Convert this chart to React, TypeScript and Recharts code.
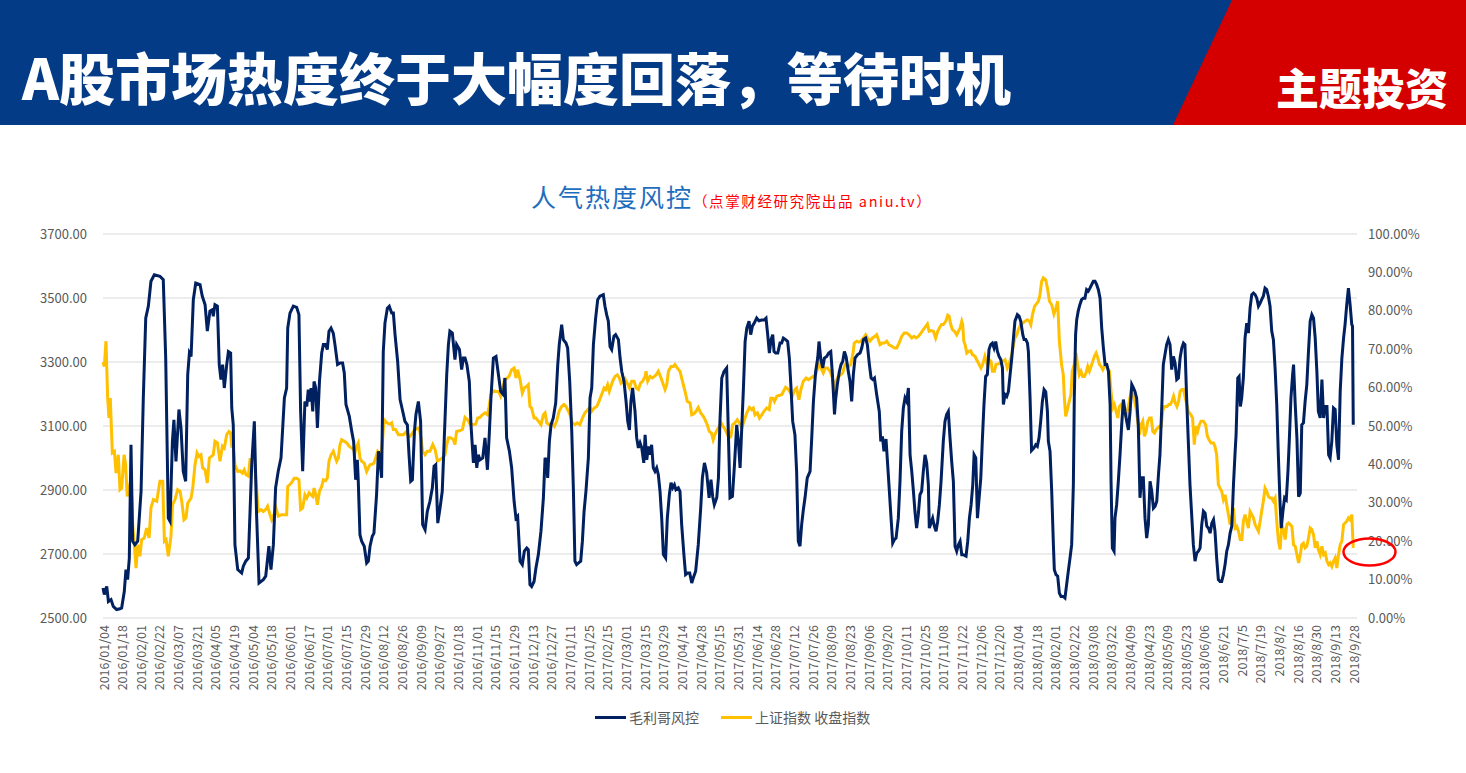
import { LineChart, Line, XAxis, YAxis, CartesianGrid } from "recharts";

// x = trading-day index from 2016/01/04 (one tick label every 10 trading days)
const dateLabels = [
  "2016/01/04", "2016/01/18", "2016/02/01", "2016/02/22", "2016/03/07", "2016/03/21", "2016/04/05", "2016/04/19",
  "2016/05/04", "2016/05/18", "2016/06/01", "2016/06/17", "2016/07/01", "2016/07/15", "2016/07/29", "2016/08/12",
  "2016/08/26", "2016/09/09", "2016/09/27", "2016/10/18", "2016/11/01", "2016/11/15", "2016/11/29", "2016/12/13",
  "2016/12/27", "2017/01/11", "2017/01/25", "2017/02/15", "2017/03/01", "2017/03/15", "2017/03/29", "2017/04/14",
  "2017/04/28", "2017/05/15", "2017/05/31", "2017/06/14", "2017/06/28", "2017/07/12", "2017/07/26", "2017/08/09",
  "2017/08/23", "2017/09/06", "2017/09/20", "2017/10/11", "2017/10/25", "2017/11/08", "2017/11/22", "2017/12/06",
  "2017/12/20", "2018/01/04", "2018/01/18", "2018/02/01", "2018/02/22", "2018/03/08", "2018/03/22", "2018/04/09",
  "2018/04/23", "2018/05/09", "2018/05/23", "2018/06/06", "2018/6/21", "2018/7/5", "2018/7/19", "2018/8/2",
  "2018/8/16", "2018/8/30", "2018/9/13", "2018/9/28",
];

// 毛利哥风控, percent, [day, value]
const heatRisk: [number, number][] = [
  [0, 7.8], [0.7, 6.1], [2.0, 8.2], [2.9, 4.3], [4.3, 4.8], [5.5, 3.0], [7.3, 2.2], [9.1, 2.4], [10.0, 2.6], [11.4, 6.9],
  [12.3, 12.6], [13.2, 10.0], [14.1, 15.6], [15.0, 45.1], [15.9, 20.0], [17.1, 19.1], [18.6, 20.0], [20.4, 33.0], [21.6, 57.3],
  [22.9, 78.1], [24.3, 81.2], [25.7, 87.7], [27.5, 89.4], [30.5, 89.0], [32.3, 88.1], [33.6, 67.7], [35.0, 26.0], [35.9, 25.2],
  [37.2, 46.0], [38.0, 51.6], [39.1, 40.8], [40.7, 54.3], [41.8, 49.5], [43.0, 38.2], [44.3, 35.6], [45.4, 63.4], [46.3, 69.0],
  [47.2, 68.1], [48.4, 82.9], [49.7, 87.2], [52.0, 86.8], [53.2, 83.8], [54.7, 81.6], [55.9, 74.7], [57.3, 79.9], [58.6, 80.3],
  [59.1, 78.6], [60.0, 81.6], [61.3, 81.2], [62.3, 66.0], [63.2, 62.1], [64.1, 66.0], [65.0, 59.9], [66.3, 66.0], [67.2, 69.4],
  [68.4, 69.0], [69.0, 54.7], [69.8, 50.3], [70.7, 19.1], [72.2, 12.6], [74.3, 11.7], [75.2, 13.5], [76.5, 14.8], [77.9, 15.6],
  [79.7, 39.9], [81.1, 51.2], [82.3, 26.9], [83.6, 9.1], [85.9, 10.0], [87.2, 10.9], [88.9, 18.7], [90.0, 12.6], [91.3, 19.1],
  [92.5, 33.9], [93.9, 38.2], [95.4, 41.7], [97.2, 57.3], [98.4, 59.9], [99.0, 75.5], [100.2, 79.4], [102.0, 81.2], [103.8, 80.9],
  [105.0, 79.0], [105.9, 53.8], [107.0, 38.2], [108.2, 56.4], [109.2, 55.1], [110.0, 59.5], [111.0, 56.4], [111.5, 59.9],
  [112.4, 53.8], [113.1, 61.6], [114.0, 59.9], [114.9, 49.5], [116.0, 61.6], [117.2, 69.0], [118.1, 71.2], [119.3, 71.2],
  [120.2, 69.9], [121.1, 74.7], [122.2, 75.5], [123.4, 74.2], [124.3, 71.2], [125.7, 66.0], [127.0, 66.4], [128.4, 66.4],
  [129.3, 63.8], [130.2, 55.6], [132.0, 52.5], [133.3, 48.6], [134.3, 46.0], [135.4, 36.0], [136.3, 41.2], [136.8, 35.6],
  [137.7, 21.7], [138.6, 20.0], [140.0, 18.7], [141.3, 14.3], [142.2, 14.8], [143.1, 18.7], [144.3, 21.3], [145.2, 22.1],
  [146.6, 32.1], [147.6, 43.4], [148.4, 41.2], [149.3, 36.5], [150.2, 69.4], [151.1, 76.8], [152.4, 80.7], [153.4, 81.2],
  [154.7, 79.4], [155.6, 79.4], [156.5, 73.8], [157.9, 66.8], [159.2, 56.9], [160.4, 54.3], [161.8, 51.2], [163.1, 50.3],
  [164.0, 42.5], [164.9, 35.6], [165.8, 36.0], [166.9, 48.6], [167.7, 53.0], [169.0, 56.4], [170.2, 51.2], [171.3, 24.3],
  [172.6, 23.0], [173.8, 27.8], [175.2, 30.4], [176.5, 33.9], [177.4, 39.5], [178.3, 39.9], [179.4, 24.7], [180.6, 28.6],
  [181.8, 33.0], [182.9, 46.9], [184.2, 63.4], [185.1, 71.2], [185.9, 74.7], [187.2, 74.2], [188.6, 67.3], [189.5, 71.2],
  [191.0, 69.9], [192.2, 64.7], [193.1, 67.7], [194.0, 67.7], [195.0, 66.0], [196.3, 61.6], [197.2, 50.3], [198.5, 40.4],
  [199.4, 45.1], [200.3, 39.1], [201.1, 42.5], [202.0, 41.2], [203.5, 41.7], [204.7, 46.9], [206.0, 38.6], [206.9, 46.9],
  [207.9, 57.3], [209.2, 67.7], [210.6, 68.1], [211.9, 63.4], [213.1, 59.0], [214.5, 58.2], [215.4, 62.5], [216.3, 46.9],
  [217.8, 43.4], [219.0, 39.1], [220.3, 30.4], [221.3, 26.0], [222.2, 26.5], [223.5, 14.8], [224.7, 13.9], [225.8, 17.4],
  [227.1, 18.2], [227.9, 17.8], [228.8, 8.7], [229.7, 8.2], [231.0, 9.5], [232.0, 13.0], [233.3, 16.5], [234.7, 22.6],
  [236.0, 31.3], [236.9, 41.7], [237.8, 40.8], [238.3, 36.5], [239.2, 46.0], [240.1, 50.3], [241.3, 52.1], [242.6, 56.0],
  [243.7, 66.0], [244.5, 71.2], [245.8, 76.4], [246.7, 72.5], [248.1, 71.6], [249.0, 70.3], [250.1, 61.6], [251.2, 48.6],
  [252.1, 33.0], [252.9, 14.8], [253.8, 13.9], [254.7, 14.3], [256.0, 14.8], [256.9, 20.0], [257.8, 27.8], [258.8, 33.0],
  [260.1, 41.7], [261.0, 57.3], [261.9, 59.9], [262.8, 71.2], [264.0, 78.1], [265.1, 82.9], [266.3, 83.8], [268.1, 84.2],
  [269.0, 81.2], [269.9, 79.0], [270.8, 77.3], [271.7, 70.7], [272.6, 69.9], [273.8, 73.4], [274.7, 73.8], [276.2, 72.5],
  [277.1, 67.7], [278.0, 64.2], [279.2, 61.6], [280.3, 56.4], [281.2, 51.2], [282.1, 49.0], [282.9, 56.4], [283.8, 59.9],
  [285.1, 53.8], [286.0, 46.9], [286.9, 44.3], [287.8, 45.6], [288.7, 44.3], [289.8, 40.4], [290.5, 47.7], [291.4, 41.2],
  [292.3, 44.7], [293.2, 42.5], [294.0, 45.1], [294.9, 39.1], [295.8, 38.2], [296.7, 39.1], [297.6, 37.3], [298.5, 33.0],
  [299.4, 26.0], [300.3, 16.5], [301.5, 15.6], [302.4, 26.0], [303.5, 32.1], [304.4, 35.2], [305.3, 33.9], [306.2, 34.7],
  [307.0, 33.4], [308.3, 33.9], [309.2, 33.0], [310.1, 24.3], [311.3, 16.5], [312.2, 11.3], [313.3, 11.7], [314.4, 11.7],
  [315.5, 9.1], [316.3, 10.4], [317.6, 12.2], [319.0, 19.1], [320.3, 28.6], [321.2, 36.5], [322.3, 40.4], [323.5, 37.8],
  [324.8, 31.3], [325.8, 36.0], [326.7, 31.7], [327.6, 29.5], [328.9, 31.3], [329.8, 36.5], [330.6, 51.2], [331.6, 62.5],
  [332.8, 64.2], [334.2, 65.1], [335.1, 48.6], [336.0, 31.3], [337.3, 31.7], [338.4, 39.9], [339.6, 50.3], [340.5, 46.0],
  [341.4, 39.1], [342.3, 49.5], [343.2, 59.9], [344.1, 72.0], [345.0, 75.5], [346.2, 77.3], [347.1, 73.8], [348.0, 76.0],
  [349.0, 76.8], [350.3, 78.1], [351.5, 77.4], [353.0, 77.6], [354.2, 77.6], [355.3, 78.1], [356.2, 73.8], [357.1, 69.0],
  [358.0, 72.5], [358.9, 73.8], [359.6, 69.4], [360.5, 69.0], [361.6, 69.0], [362.8, 71.6], [363.7, 71.6], [364.6, 72.9],
  [365.8, 72.5], [366.9, 72.0], [367.8, 67.7], [368.7, 59.9], [369.6, 51.2], [370.8, 47.7], [371.7, 38.2], [372.6, 20.0],
  [373.5, 18.7], [374.4, 24.3], [375.3, 28.2], [376.2, 31.3], [377.4, 36.5], [378.9, 38.2], [379.8, 46.9], [380.7, 56.4],
  [381.9, 64.2], [383.0, 67.7], [383.7, 72.0], [384.6, 67.7], [385.7, 65.1], [386.6, 67.7], [387.8, 68.1], [388.9, 69.0],
  [390.0, 69.4], [390.9, 63.4], [392.0, 53.0], [392.6, 56.9], [393.5, 60.8], [394.6, 64.2], [395.5, 66.0], [396.4, 66.8],
  [397.3, 69.4], [398.2, 68.1], [399.4, 64.2], [400.3, 61.6], [401.2, 56.4], [402.1, 63.4], [403.0, 67.7], [404.4, 68.6],
  [405.7, 69.0], [406.6, 70.3], [407.5, 72.5], [408.7, 72.9], [409.6, 71.2], [410.7, 66.0], [411.6, 62.5], [412.5, 62.1],
  [413.4, 62.5], [414.6, 58.2], [416.0, 53.8], [416.8, 46.0], [417.7, 47.3], [418.5, 43.4], [419.6, 46.6], [420.5, 39.9],
  [421.4, 33.0], [422.3, 26.0], [423.2, 19.5], [424.1, 20.4], [425.0, 20.8], [426.2, 26.0], [427.1, 35.6], [428.0, 48.6],
  [428.9, 54.7], [429.8, 57.3], [430.7, 56.4], [431.6, 59.9], [432.5, 42.5], [433.4, 38.2], [434.3, 33.0], [435.1, 27.8],
  [436.0, 23.4], [436.9, 26.9], [437.8, 32.1], [438.7, 33.0], [439.6, 38.2], [440.5, 42.5], [441.4, 40.4], [442.3, 34.7],
  [442.8, 23.4], [443.7, 24.7], [444.6, 26.0], [445.5, 23.9], [446.4, 22.6], [447.3, 25.2], [448.2, 29.5], [449.1, 35.6],
  [450.3, 46.0], [451.2, 51.2], [452.1, 53.0], [453.0, 53.8], [453.9, 46.9], [454.8, 40.8], [455.7, 35.6], [456.6, 18.7],
  [457.5, 17.4], [458.4, 19.1], [459.3, 20.0], [460.2, 16.5], [461.0, 16.5], [462.5, 16.1], [463.4, 20.0], [464.3, 26.0],
  [465.2, 29.5], [466.1, 34.7], [466.8, 42.5], [467.7, 41.7], [468.6, 26.0], [469.5, 31.3], [470.4, 36.5], [471.2, 46.0],
  [472.1, 55.6], [473.0, 62.9], [473.9, 63.4], [474.8, 69.9], [475.7, 71.2], [476.6, 71.6], [477.5, 70.3], [478.4, 72.0],
  [479.3, 69.4], [480.2, 68.1], [481.1, 67.3], [482.0, 65.1], [482.5, 55.6], [483.4, 58.2], [484.3, 57.7], [485.2, 59.0],
  [486.1, 63.4], [487.0, 67.7], [487.9, 72.9], [488.7, 77.3], [490.0, 79.0], [490.9, 78.6], [491.8, 77.3], [492.9, 73.8],
  [493.6, 72.5], [494.5, 72.5], [495.4, 71.6], [495.9, 69.4], [496.8, 57.3], [497.6, 43.6], [498.9, 44.3], [499.8, 45.1],
  [500.7, 44.7], [501.6, 46.9], [502.5, 51.2], [503.4, 56.4], [504.3, 59.5], [505.2, 58.9], [506.1, 53.8], [506.6, 46.0],
  [507.5, 43.4], [508.4, 33.0], [509.3, 19.1], [509.8, 12.6], [510.7, 11.3], [511.6, 10.9], [512.5, 6.5], [513.4, 5.6],
  [514.6, 5.6], [515.5, 5.2], [516.4, 8.7], [517.3, 12.2], [518.2, 15.6], [519.1, 19.1], [520.0, 34.7], [520.5, 57.3],
  [521.2, 73.8], [521.8, 77.7], [522.6, 79.9], [523.5, 81.6], [524.4, 82.9], [525.3, 83.3], [526.2, 83.3], [527.1, 85.5],
  [528.0, 85.1], [528.9, 85.9], [529.8, 86.8], [530.7, 87.7], [531.6, 87.7], [532.5, 86.8], [533.4, 85.5], [534.3, 83.3],
  [535.2, 75.5], [536.1, 70.3], [537.0, 66.0], [537.9, 66.0], [538.8, 64.2], [539.7, 55.6], [540.2, 35.6], [540.9, 18.2],
  [541.8, 17.4], [542.3, 26.0], [543.2, 29.5], [544.1, 35.6], [545.0, 42.5], [545.9, 50.3], [546.8, 56.9], [547.7, 53.8],
  [548.6, 51.2], [549.5, 49.0], [550.4, 53.8], [551.3, 60.8], [552.2, 59.9], [553.0, 59.0], [553.9, 57.3], [554.8, 50.3],
  [555.7, 31.3], [556.6, 36.5], [557.5, 36.5], [558.4, 26.0], [559.3, 20.8], [560.2, 24.3], [561.1, 35.6], [562.0, 33.0],
  [562.9, 28.6], [563.8, 29.1], [564.7, 30.4], [565.6, 37.3], [566.4, 42.5], [567.3, 53.8], [568.2, 66.0], [569.1, 68.6],
  [570.0, 71.2], [570.9, 72.5], [571.8, 71.2], [572.7, 64.7], [573.6, 68.1], [574.5, 66.4], [575.4, 62.1], [576.3, 62.5],
  [577.2, 67.7], [578.1, 70.3], [579.0, 71.6], [579.8, 71.2], [580.7, 57.3], [581.6, 46.0], [582.5, 34.7], [583.4, 26.9],
  [584.3, 19.1], [585.2, 14.8], [586.1, 16.9], [587.0, 17.4], [587.9, 18.2], [588.8, 24.3], [589.7, 27.8], [590.6, 27.3],
  [591.5, 23.9], [592.4, 23.4], [593.3, 22.1], [594.2, 24.7], [595.1, 25.6], [595.9, 22.6], [596.8, 15.6], [597.7, 10.0],
  [598.6, 9.5], [599.5, 9.5], [600.4, 11.3], [601.3, 13.9], [602.2, 17.4], [603.1, 19.1], [604.0, 22.1], [604.9, 23.9],
  [605.8, 34.7], [606.7, 43.4], [607.2, 47.7], [608.1, 62.5], [608.8, 62.9], [609.5, 55.1], [610.2, 57.3], [611.1, 62.5],
  [612.0, 72.9], [612.9, 76.8], [613.8, 74.2], [614.7, 80.7], [615.6, 84.2], [616.5, 84.6], [617.4, 84.2], [618.3, 83.3],
  [619.2, 81.2], [620.1, 82.0], [620.9, 82.9], [621.8, 83.8], [622.7, 85.9], [623.6, 85.5], [624.5, 83.8], [625.4, 81.2],
  [626.3, 74.7], [627.2, 72.5], [628.1, 65.1], [629.0, 55.6], [629.9, 41.7], [630.8, 29.5], [631.4, 23.4], [632.3, 27.8],
  [633.2, 31.3], [634.1, 30.8], [635.0, 38.2], [635.7, 46.0], [636.6, 57.3], [637.5, 63.4], [638.0, 66.0], [638.9, 55.6],
  [639.8, 46.9], [640.7, 31.6], [641.6, 32.5], [642.4, 50.3], [643.3, 50.8], [644.2, 56.4], [645.1, 60.8], [646.0, 69.4],
  [646.9, 77.3], [647.8, 79.0], [648.7, 78.1], [649.6, 72.9], [650.5, 64.2], [651.3, 53.8], [652.3, 52.1], [653.2, 62.1],
  [654.1, 52.1], [655.0, 55.1], [655.9, 55.1], [656.8, 42.5], [657.6, 41.7], [658.5, 46.0], [659.4, 54.7], [660.3, 54.3],
  [661.2, 45.1], [662.1, 41.2], [663.0, 59.0], [663.9, 67.7], [664.8, 72.9], [665.6, 76.4], [666.5, 81.6], [667.4, 85.9],
  [668.3, 81.6], [669.2, 76.4], [669.6, 76.0], [670.0, 50.3],
];

// 上证指数 收盘指数, [day, close]
const shIndex: [number, number][] = [
  [0, 3300], [0.7, 3286], [1.6, 3365], [2.5, 3187], [3.2, 3125], [3.9, 3187], [5.0, 3016], [6.1, 3021], [7.0, 2953], [8.2, 3010],
  [9.1, 2901], [10.0, 2906], [11.3, 3010], [12.1, 2979], [13.0, 2880], [14.1, 2906], [15.0, 2937], [15.9, 2792], [16.8, 2729],
  [17.7, 2656], [18.6, 2729], [19.8, 2693], [20.7, 2745], [22.1, 2750], [23.4, 2781], [24.7, 2750], [25.7, 2844], [27.0, 2870],
  [28.8, 2865], [30.5, 2927], [32.0, 2927], [32.9, 2740], [33.8, 2745], [35.0, 2693], [36.4, 2755], [37.3, 2854], [38.6, 2870],
  [40.0, 2901], [41.3, 2896], [42.2, 2865], [43.4, 2807], [44.5, 2813], [45.4, 2859], [47.2, 2875], [48.1, 2906], [49.3, 2979],
  [50.4, 3016], [51.4, 3005], [52.5, 3010], [53.4, 2969], [54.7, 2963], [55.9, 2922], [57.0, 3000], [59.1, 3010], [60.0, 3052],
  [61.3, 3047], [62.7, 2990], [64.0, 3037], [65.0, 3031], [66.3, 3073], [67.5, 3083], [68.4, 3078], [69.0, 3037], [69.8, 3037],
  [70.7, 2979], [72.2, 2958], [73.4, 2960], [74.7, 2953], [75.7, 2963], [76.6, 2948], [77.9, 2943], [78.8, 2995], [80.0, 2995],
  [81.1, 2995], [82.3, 2906], [83.2, 2833], [84.7, 2839], [85.9, 2833], [87.2, 2839], [88.2, 2849], [89.5, 2823], [90.4, 2807],
  [91.6, 2823], [92.7, 2844], [93.9, 2818], [95.7, 2823], [98.4, 2823], [99.0, 2911], [100.2, 2917], [101.5, 2927], [102.5, 2937],
  [103.8, 2937], [105.0, 2932], [105.9, 2839], [107.0, 2844], [108.2, 2885], [109.2, 2875], [110.4, 2891], [111.5, 2885],
  [112.4, 2880], [113.1, 2906], [114.0, 2885], [114.9, 2854], [116.0, 2896], [117.2, 2911], [118.1, 2932], [119.3, 2929],
  [120.2, 2937], [121.1, 2990], [122.2, 3010], [123.4, 3021], [124.3, 3005], [125.2, 2990], [126.1, 3000], [127.0, 3042],
  [127.9, 3057], [129.3, 3052], [130.6, 3047], [132.0, 3036], [133.3, 3031], [134.3, 3026], [135.0, 3016], [135.9, 3036],
  [136.8, 3047], [137.7, 3000], [138.6, 2990], [140.0, 2984], [141.3, 2958], [142.2, 2969], [143.1, 2979], [144.3, 2981],
  [145.2, 2984], [146.1, 3000], [147.2, 3021], [147.9, 3016], [149.0, 3010], [149.9, 3063], [150.6, 3120], [152.0, 3110],
  [153.8, 3106], [154.7, 3110], [155.6, 3089], [156.8, 3089], [158.3, 3073], [159.7, 3073], [161.0, 3073], [161.8, 3078],
  [162.7, 3083], [163.6, 3068], [164.7, 3068], [165.8, 3078], [167.2, 3089], [169.4, 3094], [170.4, 3063], [171.3, 3021],
  [172.6, 3010], [173.8, 3021], [175.2, 3021], [176.7, 3042], [178.0, 3026], [179.2, 2990], [180.6, 2995], [181.8, 3000],
  [183.3, 3010], [184.2, 3042], [185.1, 3063], [186.3, 3063], [187.8, 3057], [188.6, 3042], [189.5, 3083], [191.0, 3085],
  [192.6, 3089], [194.0, 3127], [195.3, 3120], [196.7, 3106], [198.5, 3104], [199.7, 3106], [200.8, 3125], [202.0, 3127],
  [203.3, 3135], [204.7, 3141], [206.0, 3135], [206.9, 3161], [207.9, 3198], [209.2, 3210], [210.6, 3208], [211.9, 3208],
  [213.1, 3193], [214.2, 3214], [215.1, 3245], [216.3, 3248], [217.6, 3255], [219.0, 3276], [220.3, 3281], [221.3, 3250],
  [222.2, 3276], [223.5, 3245], [224.7, 3203], [225.8, 3219], [227.1, 3224], [227.9, 3229], [228.8, 3161], [229.7, 3156],
  [231.0, 3125], [232.0, 3125], [233.3, 3115], [234.7, 3104], [236.0, 3135], [236.9, 3141], [237.8, 3110], [239.2, 3104],
  [240.4, 3110], [241.9, 3099], [243.1, 3115], [244.4, 3146], [245.8, 3161], [247.0, 3167], [248.1, 3161], [249.0, 3151],
  [250.3, 3135], [251.5, 3110], [252.9, 3104], [254.2, 3110], [255.6, 3104], [256.9, 3125], [258.3, 3141], [259.7, 3151],
  [261.0, 3158], [261.9, 3146], [263.1, 3156], [264.6, 3161], [265.8, 3177], [267.2, 3198], [268.5, 3219], [269.4, 3214],
  [270.4, 3229], [271.3, 3208], [272.2, 3224], [273.1, 3240], [274.4, 3255], [275.6, 3260], [276.7, 3250], [277.6, 3234],
  [278.8, 3240], [279.7, 3248], [280.9, 3234], [282.1, 3219], [283.3, 3240], [284.6, 3240], [285.7, 3219], [286.9, 3214],
  [288.1, 3234], [289.2, 3240], [290.5, 3255], [291.0, 3271], [291.9, 3240], [293.2, 3255], [294.4, 3250], [295.5, 3255],
  [296.4, 3260], [297.6, 3271], [298.9, 3252], [300.3, 3229], [301.2, 3214], [302.1, 3229], [303.0, 3271], [304.4, 3286],
  [305.7, 3286], [306.5, 3292], [307.8, 3281], [309.2, 3271], [310.5, 3240], [311.9, 3208], [313.1, 3177], [314.6, 3172],
  [315.5, 3135], [316.7, 3138], [317.8, 3146], [319.0, 3158], [320.3, 3141], [321.7, 3130], [322.6, 3120], [323.8, 3104],
  [324.9, 3083], [326.1, 3078], [327.0, 3057], [327.9, 3073], [329.2, 3089], [330.3, 3099], [331.2, 3110], [332.3, 3099],
  [333.3, 3091], [334.6, 3073], [335.6, 3063], [336.5, 3068], [337.4, 3104], [338.7, 3110], [339.9, 3120], [341.0, 3110],
  [342.3, 3094], [343.5, 3115], [345.0, 3141], [346.4, 3158], [347.6, 3151], [348.5, 3156], [349.4, 3135], [350.7, 3141],
  [351.8, 3125], [353.0, 3135], [354.2, 3146], [355.7, 3156], [357.0, 3151], [357.9, 3187], [359.0, 3187], [359.8, 3177],
  [361.1, 3193], [362.6, 3196], [363.7, 3198], [364.6, 3208], [365.8, 3221], [367.3, 3214], [368.5, 3203], [369.6, 3196],
  [370.8, 3214], [371.7, 3219], [372.9, 3182], [374.0, 3214], [375.3, 3240], [376.8, 3250], [378.0, 3245], [379.3, 3250],
  [380.7, 3255], [381.9, 3260], [383.0, 3281], [383.9, 3297], [384.8, 3281], [386.0, 3266], [387.0, 3281], [388.2, 3281],
  [389.6, 3271], [390.9, 3250], [391.8, 3208], [392.8, 3240], [394.0, 3255], [395.3, 3260], [396.4, 3266], [397.6, 3292],
  [398.5, 3294], [399.6, 3286], [400.7, 3292], [401.8, 3323], [402.6, 3359], [403.9, 3365], [405.1, 3362], [406.2, 3365],
  [407.5, 3375], [408.7, 3385], [409.8, 3375], [411.0, 3365], [412.3, 3375], [413.7, 3380], [414.6, 3385], [415.5, 3370],
  [416.4, 3354], [417.7, 3359], [418.7, 3359], [420.0, 3365], [421.2, 3354], [422.7, 3349], [424.1, 3344], [425.3, 3344],
  [426.6, 3359], [428.0, 3380], [429.4, 3391], [430.7, 3391], [432.0, 3385], [433.4, 3375], [434.6, 3380], [435.7, 3375],
  [436.9, 3380], [438.4, 3391], [439.6, 3401], [440.9, 3411], [441.8, 3419], [442.7, 3396], [443.7, 3398], [445.0, 3396],
  [446.2, 3375], [447.3, 3396], [448.6, 3411], [449.4, 3417], [450.3, 3417], [451.6, 3427], [452.7, 3446], [453.4, 3443],
  [454.3, 3417], [455.2, 3401], [456.3, 3396], [457.5, 3385], [458.4, 3396], [459.3, 3406], [460.2, 3427], [460.7, 3417],
  [461.3, 3365], [462.0, 3354], [462.9, 3328], [463.8, 3333], [465.0, 3335], [465.9, 3323], [467.3, 3318], [468.2, 3307],
  [469.1, 3297], [470.5, 3281], [471.4, 3292], [472.6, 3318], [473.9, 3292], [474.8, 3307], [475.9, 3302], [476.6, 3271],
  [477.7, 3271], [478.5, 3292], [479.8, 3294], [481.0, 3297], [482.1, 3302], [483.4, 3307], [484.6, 3281], [485.7, 3297],
  [487.0, 3323], [487.9, 3354], [488.7, 3375], [489.7, 3385], [490.5, 3401], [491.8, 3417], [492.9, 3422], [494.1, 3427],
  [495.4, 3432], [496.5, 3427], [497.2, 3417], [498.1, 3448], [499.2, 3474], [501.3, 3490], [502.1, 3510], [503.0, 3552],
  [503.9, 3563], [505.2, 3557], [506.1, 3531], [507.2, 3490], [508.4, 3479], [509.6, 3450], [510.7, 3469], [511.6, 3490],
  [512.5, 3365], [513.7, 3292], [514.6, 3260], [515.2, 3187], [515.9, 3130], [516.8, 3151], [517.8, 3177], [518.7, 3198],
  [519.4, 3271], [520.5, 3292], [521.4, 3328], [522.3, 3292], [523.2, 3260], [524.1, 3271], [525.0, 3255], [525.9, 3255],
  [526.8, 3266], [527.7, 3286], [528.6, 3271], [529.5, 3286], [530.4, 3302], [531.3, 3318], [532.2, 3328], [533.1, 3313],
  [534.0, 3292], [534.9, 3286], [535.8, 3276], [536.6, 3286], [537.5, 3292], [538.4, 3281], [539.3, 3271], [540.2, 3208],
  [541.1, 3156], [542.0, 3167], [542.9, 3146], [543.8, 3125], [544.7, 3161], [545.6, 3167], [546.5, 3158], [547.4, 3135],
  [548.2, 3130], [549.1, 3151], [550.0, 3177], [550.9, 3208], [551.8, 3198], [552.7, 3182], [553.6, 3156], [554.5, 3115],
  [555.4, 3073], [556.3, 3104], [557.2, 3115], [558.1, 3068], [559.0, 3083], [559.9, 3115], [560.8, 3125], [561.7, 3125],
  [562.6, 3083], [563.5, 3078], [564.4, 3089], [565.3, 3094], [566.2, 3099], [567.1, 3099], [568.0, 3151], [568.9, 3161],
  [570.2, 3161], [571.1, 3167], [571.9, 3167], [572.8, 3177], [573.7, 3193], [574.6, 3172], [575.5, 3161], [576.4, 3177],
  [577.2, 3208], [578.1, 3214], [579.0, 3214], [579.9, 3190], [580.8, 3167], [581.6, 3146], [583.0, 3135], [583.9, 3125],
  [584.8, 3042], [585.7, 3099], [586.6, 3083], [587.5, 3104], [588.4, 3115], [589.7, 3115], [590.9, 3104], [591.8, 3068],
  [592.7, 3057], [593.8, 3047], [595.1, 3047], [595.9, 3036], [596.8, 3010], [597.7, 2917], [598.6, 2906], [599.5, 2896],
  [600.4, 2870], [601.3, 2885], [602.2, 2854], [603.1, 2823], [604.0, 2792], [604.9, 2813], [605.8, 2844], [606.7, 2781],
  [607.6, 2786], [608.5, 2771], [609.4, 2745], [610.3, 2745], [611.1, 2802], [612.0, 2823], [612.9, 2802], [613.8, 2781],
  [614.7, 2833], [615.6, 2823], [616.5, 2813], [617.4, 2792], [618.3, 2781], [619.2, 2771], [620.1, 2802], [620.9, 2833],
  [621.8, 2865], [622.7, 2906], [623.6, 2896], [624.5, 2880], [625.4, 2875], [626.3, 2875], [627.2, 2865], [628.1, 2875],
  [629.0, 2802], [629.9, 2740], [630.8, 2714], [631.7, 2792], [632.6, 2776], [633.5, 2745], [634.4, 2792], [635.3, 2797],
  [636.2, 2792], [637.1, 2786], [638.0, 2729], [638.9, 2724], [639.8, 2698], [640.7, 2672], [641.6, 2698], [642.4, 2729],
  [643.3, 2734], [644.2, 2719], [645.1, 2724], [646.0, 2750], [646.9, 2781], [647.8, 2776], [648.7, 2760], [649.6, 2719],
  [650.5, 2740], [651.3, 2714], [652.3, 2698], [653.2, 2724], [654.1, 2698], [655.0, 2703], [655.9, 2677], [656.8, 2667],
  [657.6, 2672], [658.5, 2661], [659.4, 2677], [660.3, 2688], [661.2, 2656], [662.1, 2698], [663.0, 2729], [663.9, 2740],
  [664.8, 2792], [665.6, 2797], [666.5, 2802], [667.4, 2813], [668.3, 2807], [669.2, 2823], [670.0, 2719],
];

const leftTicks = [2500, 2700, 2900, 3100, 3300, 3500, 3700];
const rightTicks = [0, 10, 20, 30, 40, 50, 60, 70, 80, 90, 100];

const chartData = [
  ...heatRisk.map(([day, v]) => ({ day, heat: v as number | undefined, close: undefined as number | undefined })),
  ...shIndex.map(([day, v]) => ({ day, heat: undefined as number | undefined, close: v as number | undefined })),
].sort((a, b) => a.day - b.day);

const FONT = '"Noto Sans CJK SC", "Noto Sans", sans-serif';
const NAVY = "#002060";
const GOLD = "#FFC000";

function DateTick({ x, y, payload }: any) {
  const label = dateLabels[Math.round(payload.value / 10)];
  return (
    <text
      x={x}
      y={y}
      transform={`rotate(-90 ${x} ${y})`}
      textAnchor="end"
      dominantBaseline="central"
      fontSize={12.5}
      fill="#595959"
      fontFamily={FONT}
    >
      {label}
    </text>
  );
}

export default function App() {
  return (
    <div style={{ position: "absolute", left: 0, top: 0, width: 1466, height: 773, background: "#fff", overflow: "hidden", fontFamily: FONT }}>
      {/* header band */}
      <div style={{ position: "absolute", left: 0, top: 0, width: 1466, height: 125, background: "#043B87" }} />
      <div
        style={{
          position: "absolute", left: 1173, top: 0, width: 293, height: 125, background: "#D40000",
          clipPath: "polygon(59px 0, 100% 0, 100% 100%, 0 100%)",
        }}
      />
      <div style={{ position: "absolute", left: 22, top: 46, fontSize: 56, lineHeight: "60px", fontWeight: 900, color: "#fff", whiteSpace: "nowrap" }}>
        A股市场热度终于大幅度回落，等待时机
      </div>
      <div style={{ position: "absolute", left: 1276, top: 62, fontSize: 43, lineHeight: "48px", fontWeight: 900, color: "#fff", whiteSpace: "nowrap" }}>
        主题投资
      </div>

      {/* chart title */}
      <div style={{ position: "absolute", left: 531, top: 180, whiteSpace: "nowrap", lineHeight: "32px" }}>
        <span style={{ fontSize: 25, letterSpacing: 2, color: "#1E6EBE" }}>人气热度风控</span>
        <span style={{ fontSize: 14.5, letterSpacing: 1.6, color: "#FF0000" }}>（点掌财经研究院出品 aniu.tv）</span>
      </div>

      <div style={{ position: "absolute", left: 0, top: 0 }}>
        <LineChart width={1466} height={773} data={chartData} margin={{ top: 234, right: 29, bottom: 65, left: 23 }}>
          <CartesianGrid yAxisId="left" vertical={false} stroke="#D9D9D9" />
          <XAxis
            dataKey="day"
            type="number"
            domain={[0, 672]}
            ticks={dateLabels.map((_, i) => i * 10)}
            interval={0}
            height={90}
            axisLine={false}
            tickLine={false}
            tickMargin={1}
            tick={<DateTick />}
          />
          <YAxis
            yAxisId="left"
            domain={[2500, 3700]}
            ticks={leftTicks}
            width={80}
            axisLine={false}
            tickLine={false}
            tickMargin={10}
            tick={{ fontSize: 13, fill: "#595959", fontFamily: FONT }}
            tickFormatter={(v: number) => v.toFixed(2)}
          />
          <YAxis
            yAxisId="right"
            orientation="right"
            domain={[0, 100]}
            ticks={rightTicks}
            width={80}
            axisLine={false}
            tickLine={false}
            tickMargin={5}
            tick={{ fontSize: 13, fill: "#595959", fontFamily: FONT }}
            tickFormatter={(v: number) => `${v.toFixed(2)}%`}
          />
          <Line
            yAxisId="left"
            dataKey="close"
            type="linear"
            stroke={GOLD}
            strokeWidth={3}
            dot={false}
            activeDot={false}
            connectNulls
            isAnimationActive={false}
          />
          <Line
            yAxisId="right"
            dataKey="heat"
            type="linear"
            stroke={NAVY}
            strokeWidth={3}
            dot={false}
            activeDot={false}
            connectNulls
            isAnimationActive={false}
          />
        </LineChart>
      </div>

      {/* legend */}
      <div style={{ position: "absolute", left: 595, top: 706, height: 22, display: "flex", alignItems: "center", fontSize: 14, color: "#595959", whiteSpace: "nowrap" }}>
        <span style={{ display: "inline-block", width: 31, height: 3, background: NAVY, marginRight: 3 }} />
        <span>毛利哥风控</span>
        <span style={{ display: "inline-block", width: 31, height: 3, background: GOLD, marginLeft: 22, marginRight: 3 }} />
        <span>上证指数 收盘指数</span>
      </div>

      {/* annotation */}
      <svg style={{ position: "absolute", left: 0, top: 0, pointerEvents: "none" }} width={1466} height={773}>
        <ellipse cx={1369.5} cy={552} rx={26} ry={13.5} fill="none" stroke="#FF0000" strokeWidth={2.5} />
      </svg>
    </div>
  );
}
